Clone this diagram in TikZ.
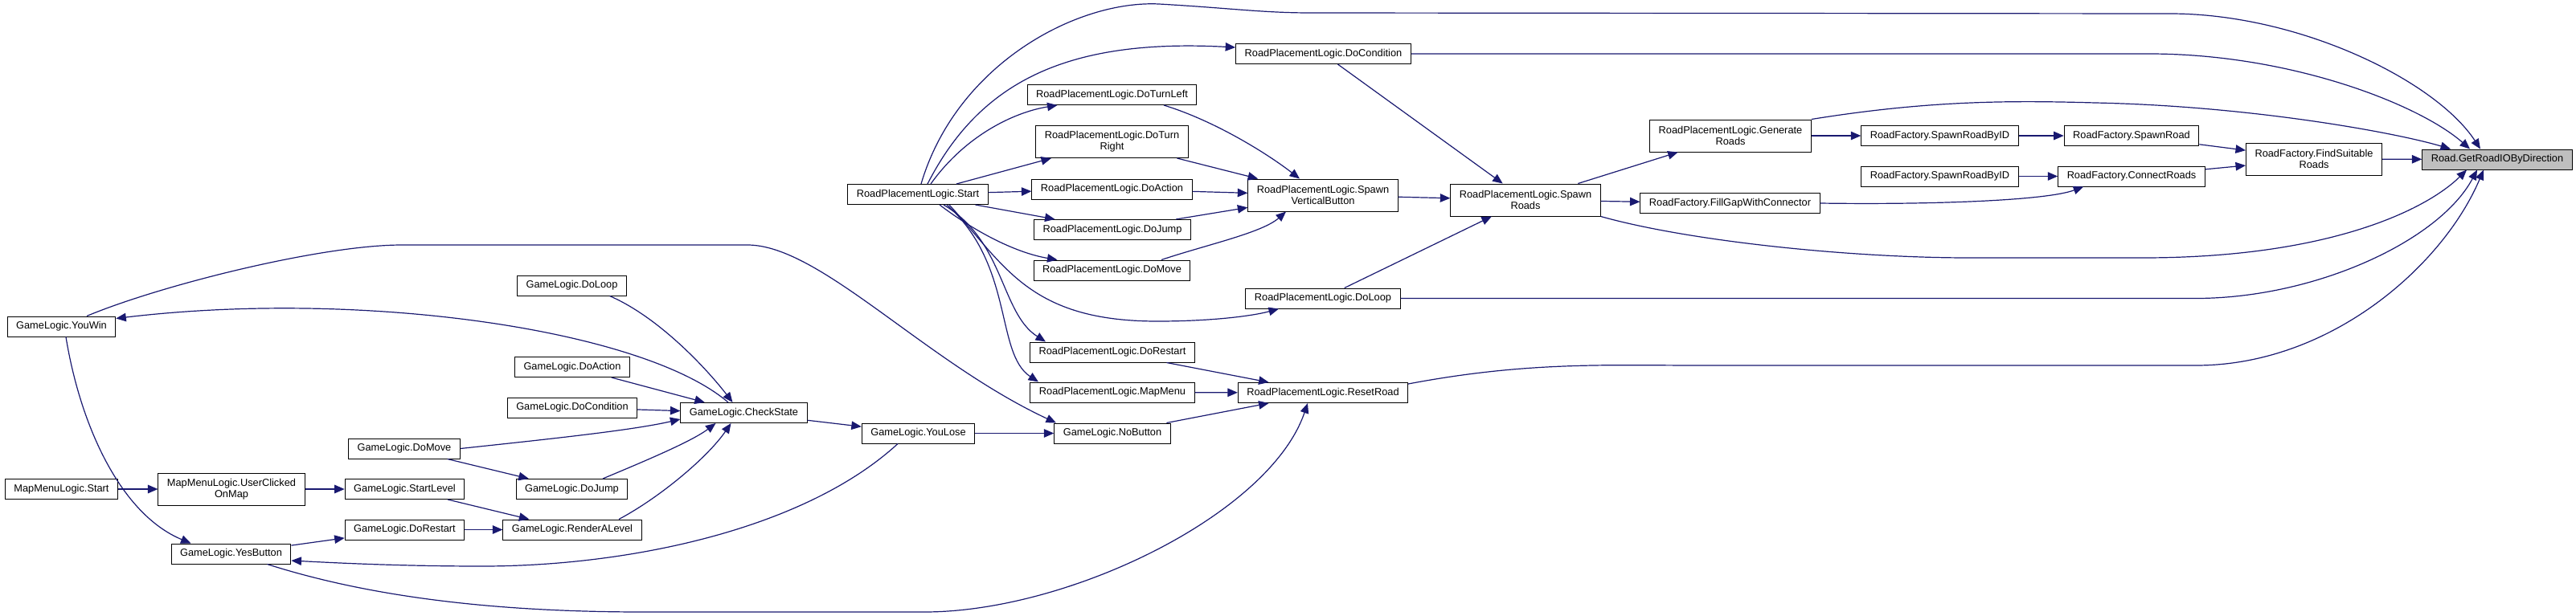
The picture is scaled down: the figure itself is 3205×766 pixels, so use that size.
\documentclass[tikz,border=0pt]{standalone}
\usepackage{fontspec}
\setmainfont{Liberation Sans}
\usetikzlibrary{arrows.meta}
\definecolor{edgenavy}{RGB}{25,25,112}
\definecolor{focusgray}{RGB}{191,191,191}
\tikzset{
    fnblock/.style={rectangle, draw=black, fill=#1, line width=1pt, minimum height=25pt, inner xsep=11pt, inner ysep=3pt, align=center, font=\fontsize{12.8}{14}\selectfont},
    fnblock/.default=white,
    twoline/.style={minimum height=40pt},
    callarrow/.style={-{Triangle[length=12.5pt,width=10.5pt]}, draw=edgenavy, line width=1.2pt}
}

\begin{document}
\begin{tikzpicture}[x=1pt, y=-1pt]
\useasboundingbox (0,0) rectangle (3205,766);

\node[fnblock=focusgray] (getio) at (3107,198.5) {Road.GetRoadIOByDirection};
\node[fnblock, twoline] (findsuit) at (2879,198) {RoadFactory.FindSuitable\\Roads};
\node[fnblock] (spawnroad) at (2652,169) {RoadFactory.SpawnRoad};
\node[fnblock] (byida) at (2413.5,169) {RoadFactory.SpawnRoadByID};
\node[fnblock] (byidb) at (2413.5,219.5) {RoadFactory.SpawnRoadByID};
\node[fnblock] (connect) at (2652,219.5) {RoadFactory.ConnectRoads};
\node[fnblock, twoline] (genroads) at (2153,169) {RoadPlacementLogic.Generate\\Roads};
\node[fnblock] (fillgap) at (2152.5,253) {RoadFactory.FillGapWithConnector};
\node[fnblock, twoline] (spawnroads) at (1898,249) {RoadPlacementLogic.Spawn\\Roads};
\node[fnblock] (rcond) at (1646.5,67) {RoadPlacementLogic.DoCondition};
\node[fnblock, twoline] (spawnvb) at (1646,243) {RoadPlacementLogic.Spawn\\VerticalButton};
\node[fnblock] (rloop) at (1646,371.5) {RoadPlacementLogic.DoLoop};
\node[fnblock] (rleft) at (1383.5,118) {RoadPlacementLogic.DoTurnLeft};
\node[fnblock, twoline] (rright) at (1383.5,176.5) {RoadPlacementLogic.DoTurn\\Right};
\node[fnblock] (raction) at (1383.5,235.5) {RoadPlacementLogic.DoAction};
\node[fnblock] (rjump) at (1384,286) {RoadPlacementLogic.DoJump};
\node[fnblock] (rmove) at (1383.5,336.5) {RoadPlacementLogic.DoMove};
\node[fnblock] (rstart) at (1142,242) {RoadPlacementLogic.Start};
\node[fnblock] (rrestart) at (1384,438.5) {RoadPlacementLogic.DoRestart};
\node[fnblock] (rmapmenu) at (1384,488.5) {RoadPlacementLogic.MapMenu};
\node[fnblock] (resetroad) at (1646,489) {RoadPlacementLogic.ResetRoad};
\node[fnblock] (nobutton) at (1384,539.5) {GameLogic.NoButton};
\node[fnblock] (youlose) at (1142.5,539.5) {GameLogic.YouLose};
\node[fnblock] (checkstate) at (925.5,514) {GameLogic.CheckState};
\node[fnblock] (gloop) at (711.5,355.5) {GameLogic.DoLoop};
\node[fnblock] (gaction) at (712,457) {GameLogic.DoAction};
\node[fnblock] (gcond) at (712,507.5) {GameLogic.DoCondition};
\node[fnblock] (gmove) at (503,558.5) {GameLogic.DoMove};
\node[fnblock] (gjump) at (711.5,609) {GameLogic.DoJump};
\node[fnblock] (startlevel) at (503.5,609) {GameLogic.StartLevel};
\node[fnblock] (grestart) at (503.5,659.5) {GameLogic.DoRestart};
\node[fnblock] (render) at (712,659.5) {GameLogic.RenderALevel};
\node[fnblock] (youwin) at (76.5,406.5) {GameLogic.YouWin};
\node[fnblock, twoline] (userclicked) at (288,609) {MapMenuLogic.UserClicked\\OnMap};
\node[fnblock] (mstart) at (76.5,609) {MapMenuLogic.Start};
\node[fnblock] (yesbutton) at (287.5,689.5) {GameLogic.YesButton};

\draw[callarrow] (findsuit) -- (getio);
\draw[callarrow] ([xshift=4pt]rstart.north) .. controls (1190,80) and (1340,0) .. (1442,5) .. controls (1530,10) and (1570,16) .. (1631,16) -- (2700,17) .. controls (2860,17) and (3030,100) .. ([xshift=-21pt]getio.north);
\draw[callarrow] (rcond.east) -- (2674,67) .. controls (2850,67) and (3010,130) .. ([xshift=-34pt]getio.north);
\draw[callarrow] (genroads.north east) .. controls (2400,125) and (2500,125) .. (2607,128) .. controls (2800,132) and (2980,165) .. ([xshift=-58pt]getio.north);
\draw[callarrow] (spawnroads.south east) .. controls (2100,300) and (2300,321) .. (2450,321) -- (2666,321) .. controls (2900,321) and (3020,260) .. ([xshift=-38pt]getio.south);
\draw[callarrow] (rloop.east) -- (2732,371.5) .. controls (2880,371.5) and (3035,300) .. ([xshift=-25pt]getio.south);
\draw[callarrow] ([yshift=-2pt]resetroad.north east) .. controls (1900,450) and (2000,455) .. (2114,455) -- (2732,455) .. controls (2900,455) and (3040,330) .. ([xshift=-17pt]getio.south);

\draw[callarrow] (spawnroad) -- (findsuit);
\draw[callarrow] (connect) -- (findsuit);
\draw[callarrow] (byida) -- (spawnroad);
\draw[callarrow] (genroads) -- (byida);
\draw[callarrow] (byidb) -- (connect);
\draw[callarrow] (fillgap.east) .. controls (2400,255) and (2545,250) .. ([xshift=32pt]connect.south west);
\draw[callarrow] (spawnroads) -- (genroads);
\draw[callarrow] (spawnroads) -- (fillgap);
\draw[callarrow] (rcond) -- (spawnroads);
\draw[callarrow] (spawnvb) -- (spawnroads);
\draw[callarrow] (rloop) -- (spawnroads);

\draw[callarrow] ([xshift=12pt]rstart.north) .. controls (1220,100) and (1330,48) .. ([yshift=8pt]rcond.west);
\draw[callarrow] ([xshift=16pt]rstart.north) .. controls (1200,170) and (1260,140) .. ([xshift=-68pt]rleft.south);
\draw[callarrow] (rstart) -- (rright);
\draw[callarrow] (rstart) -- (raction);
\draw[callarrow] (rstart) -- (rjump);
\draw[callarrow] ([xshift=27pt]rstart.south) .. controls (1215,290) and (1265,315) .. ([xshift=-68pt]rmove.north);
\draw[callarrow] ([xshift=39pt]rstart.south) .. controls (1250,330) and (1280,400) .. (1440,400) .. controls (1510,400) and (1560,393) .. ([xshift=-55pt]rloop.south);
\draw[callarrow] ([xshift=32pt]rstart.south) .. controls (1250,300) and (1245,390) .. ([xshift=-83pt]rrestart.north);
\draw[callarrow] ([xshift=36pt]rstart.south) .. controls (1262,330) and (1238,440) .. ([xshift=-92pt]rmapmenu.north);

\draw[callarrow] ([xshift=64.5pt]rleft.south) .. controls (1510,150) and (1575,190) .. ([xshift=-29pt]spawnvb.north);
\draw[callarrow] (rright) -- (spawnvb);
\draw[callarrow] (raction) -- (spawnvb);
\draw[callarrow] (rjump) -- (spawnvb);
\draw[callarrow] ([xshift=61.5pt]rmove.north) .. controls (1500,305) and (1570,290) .. ([xshift=-46pt]spawnvb.south);

\draw[callarrow] (rrestart) -- (resetroad);
\draw[callarrow] (rmapmenu) -- (resetroad);
\draw[callarrow] (nobutton) -- (resetroad);
\draw[callarrow] ([xshift=-30pt]yesbutton.south east) .. controls (450,740) and (600,762) .. (800,762) -- (1150,762) .. controls (1330,762) and (1580,640) .. ([xshift=-19pt]resetroad.south);

\draw[callarrow] (youlose) -- (nobutton);
\draw[callarrow] ([xshift=31.5pt]youwin.north) .. controls (200,355) and (400,305) .. (500,305) -- (930,305) .. controls (1020,305) and (1150,450) .. ([xshift=-70pt]nobutton.north);
\draw[callarrow] (checkstate) -- (youlose);
\draw[callarrow] ([xshift=-25.5pt]youlose.south) .. controls (1000,660) and (780,705) .. (600,705) .. controls (500,705) and (420,701) .. ([yshift=-8.5pt]yesbutton.east);
\draw[callarrow] ([xshift=-19.5pt]checkstate.north) .. controls (800,410) and (450,360) .. ([yshift=-3pt]youwin.north east);

\draw[callarrow] ([xshift=47pt]gloop.south) .. controls (820,395) and (880,460) .. ([xshift=-14pt]checkstate.north);
\draw[callarrow] (gaction) -- (checkstate);
\draw[callarrow] (gcond) -- (checkstate);
\draw[callarrow] (gmove.east) .. controls (700,545) and (790,535) .. ([yshift=-8pt]checkstate.west);
\draw[callarrow] ([xshift=38.5pt]gjump.north) .. controls (800,575) and (860,550) .. ([xshift=-35pt]checkstate.south);
\draw[callarrow] ([xshift=58pt]render.north) .. controls (820,620) and (880,570) .. ([xshift=-16pt]checkstate.south);

\draw[callarrow] (gmove) -- (gjump);
\draw[callarrow] (startlevel) -- (render);
\draw[callarrow] (grestart) -- (render);
\draw[callarrow] (userclicked) -- (startlevel);
\draw[callarrow] (mstart) -- (userclicked);
\draw[callarrow] (yesbutton) -- (grestart);
\draw[callarrow] ([xshift=5.5pt]youwin.south) .. controls (100,530) and (150,640) .. ([xshift=-50pt]yesbutton.north);

\end{tikzpicture}
\end{document}
